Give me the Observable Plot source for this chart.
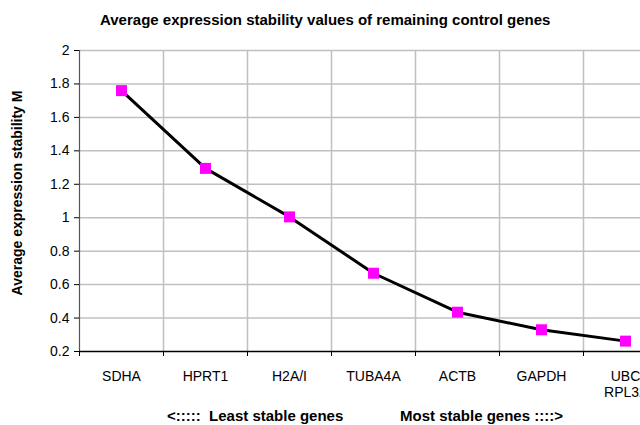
<!DOCTYPE html>
<html><head><meta charset="utf-8">
<script src="https://cdn.jsdelivr.net/npm/d3@7"></script>
<script src="https://cdn.jsdelivr.net/npm/@observablehq/plot@0.6"></script>
<style>
html,body{margin:0;padding:0;background:#fff;overflow:hidden;width:640px;height:425px;}
#title{position:relative;height:40px;font:bold 15px "Liberation Sans",Arial,sans-serif;color:#000;}
#title span{position:absolute;left:100px;top:11px;white-space:pre;}
#foot{position:relative;height:25px;font:bold 15px "Liberation Sans",Arial,sans-serif;color:#000;}
#foot span{position:absolute;top:7px;white-space:pre;}
svg{overflow:hidden;}
</style></head>
<body>
<div id="title"><span>Average expression stability values of remaining control genes</span></div>
<div id="chart"></div>
<div id="foot"><span style="left:167px">&lt;:::::  Least stable genes</span><span style="left:400px">Most stable genes ::::&gt;</span></div>
<script>
const genes = ["SDHA","HPRT1","H2A/I","TUBA4A","ACTB","GAPDH","UBC\nRPL32"];
const values = [1.76, 1.295, 1.005, 0.668, 0.435, 0.33, 0.262];
const yTicks = [0.2,0.4,0.6,0.8,1,1.2,1.4,1.6,1.8,2];

const data = genes.map((g,i)=>({i, g, v: values[i]}));
const idx = genes.map((g,i)=>i);
const bounds = d3.range(genes.length+1);

const chart = Plot.plot({
  width: 640, height: 360,
  marginTop: 10, marginBottom: 49, marginLeft: 79, marginRight: 0,
  style: {fontFamily: '"Liberation Sans",Arial,sans-serif', fontSize: "12px", color:"#000", background:"#fff"},
  x: {type:"linear", domain:[0, genes.length], range:[79, 667]},
  y: {domain:[0.2, 2]},
  marks: [
    Plot.ruleY(yTicks.filter(t=>t>0.2), {y: d=>d, stroke:"#c0c0c0", strokeWidth:1.5}),
    Plot.ruleX(bounds.filter(b=>b>0), {x: d=>d, stroke:"#c0c0c0", strokeWidth:1.5}),
    Plot.ruleX([0], {stroke:"#555", strokeWidth:1.2}),
    Plot.ruleY([0.2], {stroke:"#000", strokeWidth:1.5}),
    Plot.axisY({ticks: yTicks, tickFormat: d=>String(+d.toFixed(1)), tickSize:5, tickPadding:5, fontSize:14, label:null}),
    Plot.axisX({ticks: bounds, tickFormat: ()=>"", tickSize:5, label:null}),
    Plot.axisX({ticks: idx.map(i=>i+0.5), tickFormat: d=>genes[Math.round(d-0.5)], tickSize:0, tickPadding:19, fontSize:14, label:null, lineHeight:1.1}),
    Plot.line(data, {x: d=>d.i+0.5, y:"v", stroke:"#000", strokeWidth:3}),
    Plot.dot(data, {x: d=>d.i+0.5, y:"v", symbol:"square", r:6.2, fill:"#ff00ff", stroke:"none"}),
    Plot.text(["Average expression stability M"], {frameAnchor:"left", dx:-62, dy:-8, rotate:-90, textAnchor:"middle", fontWeight:"bold", fontSize:14, text:d=>d})
  ]
});
document.getElementById("chart").appendChild(chart);
</script>
</body></html>
